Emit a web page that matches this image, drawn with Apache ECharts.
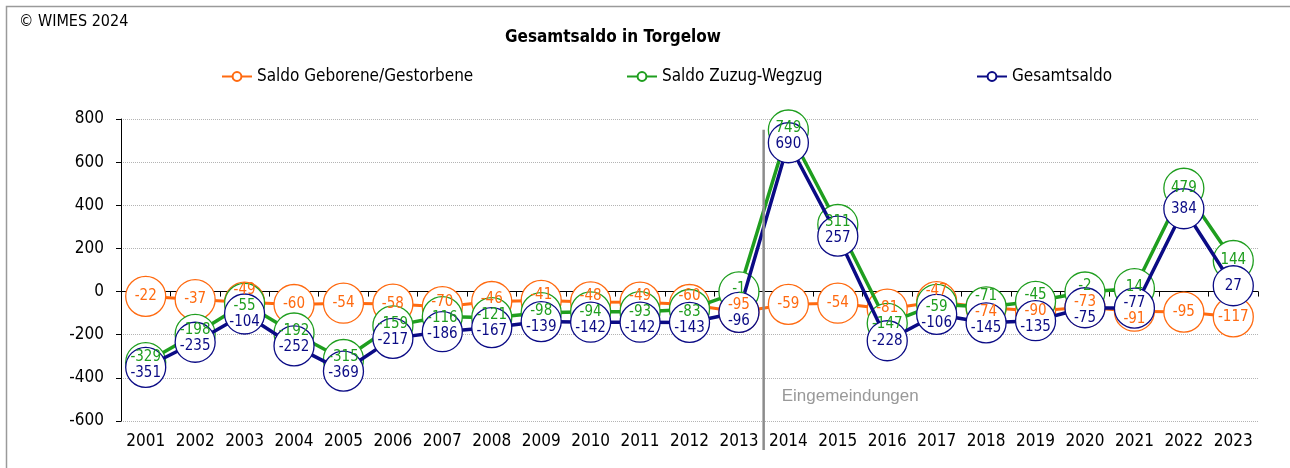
<!DOCTYPE html>
<html><head><meta charset="utf-8">
<script src="https://cdn.jsdelivr.net/npm/echarts@6/dist/echarts.min.js"></script>
<style>html,body{margin:0;padding:0;background:#fff}#c{width:1290px;height:468px}</style>
</head><body><div id="c"></div>
<script>
const years = ['2001','2002','2003','2004','2005','2006','2007','2008','2009','2010','2011','2012','2013','2014','2015','2016','2017','2018','2019','2020','2021','2022','2023'];
const geborenGestorben = [-22,-37,-49,-60,-54,-58,-70,-46,-41,-48,-49,-60,-95,-59,-54,-81,-47,-74,-90,-73,-91,-95,-117];
const zuzugWegzug = [-329,-198,-55,-192,-315,-159,-116,-121,-98,-94,-93,-83,-1,749,311,-147,-59,-71,-45,-2,14,479,144];
const gesamtsaldo = [-351,-235,-104,-252,-369,-217,-186,-167,-139,-142,-142,-143,-96,690,257,-228,-106,-145,-135,-75,-77,384,27];
const seriesNames = ['Saldo Geborene/Gestorbene','Saldo Zuzug-Wegzug','Gesamtsaldo'];
const annotation = {text:'Eingemeindungen', between:['2013','2014'], top:750, labelY:-487};

const FONT = '"DejaVu Sans Condensed","DejaVu Sans",sans-serif';
const colors = ['#ff6a10','#1f9e1f','#0b0b85'];
const allValues = [geborenGestorben, zuzugWegzug, gesamtsaldo];
const chart = echarts.init(document.getElementById('c'));

function mkSeries(name, data, color, z, lw){
  return {
    name, type:'line', data, z,
    symbol:'circle', symbolSize:40,
    itemStyle:{color:'#fff', borderColor:color, borderWidth:1.3},
    lineStyle:{color, width:lw},
    label:{show:false},
    emphasis:{disabled:true}, animation:false, silent:true
  };
}
function legendAt(name, left){
  return {data:[name], left, top:63, itemWidth:30, itemHeight:11, selectedMode:false,
    textStyle:{fontFamily:FONT, fontSize:17, color:'#000'}};
}
const option = {
  animation:false,
  textStyle:{fontFamily:FONT},
  title:[{text:'Gesamtsaldo in Torgelow', left:500, top:24, textStyle:{fontFamily:FONT, fontWeight:'bold', fontSize:17, color:'#000'}}],
  legend:[legendAt(seriesNames[0],216), legendAt(seriesNames[1],621), legendAt(seriesNames[2],971)],
  grid:{left:121, right:32, top:119, bottom:47, containLabel:false},
  xAxis:[
    {type:'category', data:years, position:'bottom', boundaryGap:true,
     axisLine:{show:false, onZero:false}, axisTick:{show:false},
     axisLabel:{color:'#000', fontSize:17, fontFamily:FONT, margin:12, interval:0}},
    {type:'category', data:years, position:'bottom', boundaryGap:true,
     axisLine:{show:true, onZero:true, lineStyle:{color:'#000', width:1}},
     axisTick:{show:true, length:5, inside:false, interval:0, lineStyle:{color:'#000'}},
     axisLabel:{show:false}}
  ],
  yAxis:{type:'value', min:-600, max:800, interval:200,
    axisLine:{show:true, lineStyle:{color:'#000', width:1}},
    axisTick:{show:true, length:5, lineStyle:{color:'#000'}},
    axisLabel:{color:'#000', fontSize:17, fontFamily:FONT, margin:17},
    splitLine:{show:true, lineStyle:{color:'#b4b4b4', type:'dotted', width:1}}},
  series:[
    mkSeries(seriesNames[0], geborenGestorben, colors[0], 2, 3),
    mkSeries(seriesNames[1], zuzugWegzug, colors[1], 3, 3.5),
    mkSeries(seriesNames[2], gesamtsaldo, colors[2], 4, 3.5)
  ]
};
chart.setOption(option);

// label offsets to avoid overlapping value labels at the same year
const MINGAP = 16;
function labelDy(si, di){
  const ys = allValues.map(v => chart.convertToPixel({yAxisIndex:0}, v[di]));
  const pos = ys.slice();
  const order = [0,1,2].sort((a,b)=>ys[a]-ys[b]);
  for (let it=0; it<8; it++){
    for (let k=0;k<2;k++){
      const a=order[k], b=order[k+1];
      const gap = pos[b]-pos[a];
      if (gap < MINGAP){ const d=(MINGAP-gap)/2; pos[a]-=d; pos[b]+=d; }
    }
  }
  return pos[si]-ys[si];
}
const labelSeries = allValues.map((vals, si) => ({
  name:'lbl'+si, type:'line', data:vals, z:10, silent:true,
  symbol:'circle', symbolSize:1,
  itemStyle:{color:'rgba(255,255,255,0)', borderWidth:0},
  lineStyle:{width:0, opacity:0},
  label:{show:true, position:'inside', color:colors[si], fontSize:15, fontFamily:FONT},
  labelLayout: (p) => ({dy: labelDy(si, p.dataIndex)}),
  emphasis:{disabled:true}
}));
chart.setOption({series: option.series.concat(labelSeries)});

const x1 = chart.convertToPixel({xAxisIndex:0}, annotation.between[0]);
const x2 = chart.convertToPixel({xAxisIndex:0}, annotation.between[1]);
const xm = (x1+x2)/2;
const yTop = chart.convertToPixel({yAxisIndex:0}, annotation.top);
const yBot = chart.convertToPixel({yAxisIndex:0}, -600) + 29;
const yLab = chart.convertToPixel({yAxisIndex:0}, annotation.labelY);
chart.setOption({graphic:[
  {type:'rect', shape:{x:6.5, y:6.5, width:1300, height:500}, style:{fill:'none', stroke:'#9a9a9a', lineWidth:1.5}, z:0, silent:true},
  {type:'text', left:19, top:14, style:{text:'© WIMES 2024', font:'16px '+FONT, fill:'#000'}},
  {type:'line', shape:{x1:xm, y1:yTop, x2:xm, y2:yBot}, style:{stroke:'#8c8c8c', lineWidth:2.5}, z:10},
  {type:'text', x:xm+18, y:yLab, style:{text:annotation.text, font:'17px "Liberation Sans",Arial,sans-serif', fill:'#999', textVerticalAlign:'middle'}, z:10}
]});
</script></body></html>
